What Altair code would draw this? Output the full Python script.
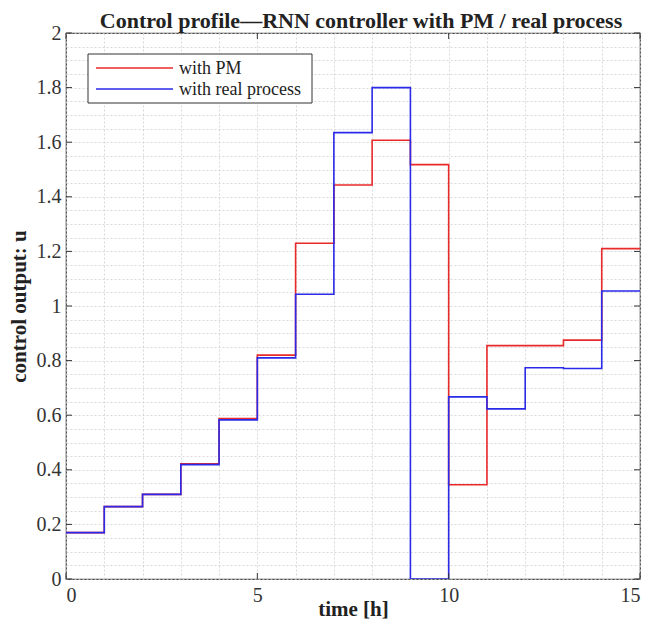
import altair as alt
import pandas as pd

# step start times (h)
t = list(range(15))
pm = [0.17, 0.265, 0.31, 0.422, 0.588, 0.82, 1.23, 1.443, 1.607, 1.518,
      0.345, 0.855, 0.855, 0.875, 1.21]
real = [0.17, 0.265, 0.31, 0.419, 0.583, 0.81, 1.043, 1.635, 1.80, 0.0,
        0.667, 0.623, 0.774, 0.771, 1.055]
series = ["with PM", "with real process"]
colors = ["#e82a2a", "#2a2ae8"]
x_major = [0, 5, 10, 15]
y_major = [round(i * 0.2, 1) for i in range(11)]
x_grid = list(range(16))
y_grid = [round(i * 0.05, 2) for i in range(41)]

rows = []
for name, vals in zip(series, [pm, real]):
    for ti, v in zip(t, vals):
        rows.append({"series": name, "t": ti, "u": v})
    rows.append({"series": name, "t": 15, "u": vals[-1]})
df = pd.DataFrame(rows)

W, H = 574, 546
FONT = "Liberation Serif"

xs = alt.Scale(domain=[0, 15], nice=False, zero=False)
ys = alt.Scale(domain=[0, 2], nice=False, zero=False)
x_axis = alt.Axis(values=x_grid, ticks=False, domain=False, labelPadding=6,
                  labelOverlap=False, titleY=36, titleBaseline="alphabetic",
                  labelExpr="datum.value % 5 == 0 ? format(datum.value, 'd') : ''")
y_axis = alt.Axis(values=y_grid, ticks=False, domain=False, labelPadding=5,
                  labelOverlap=False, titlePadding=7,
                  labelExpr="abs(datum.value*5 - round(datum.value*5)) < 1e-6 ? format(datum.value, '~g') : ''")
XT, YT = "time [h]", "control output: u"

lines = alt.Chart(df).mark_line(interpolate="step-after", strokeWidth=1.6, clip=True).encode(
    x=alt.X("t:Q", scale=xs, title=XT, axis=x_axis),
    y=alt.Y("u:Q", scale=ys, title=YT, axis=y_axis),
    color=alt.Color("series:N", scale=alt.Scale(domain=series, range=colors), legend=None),
)

# inward major ticks on all four sides
xt = pd.DataFrame({"t": x_major})
yt = pd.DataFrame({"u": y_major})
tick_b = alt.Chart(xt).mark_rule(color="#333").encode(x=alt.X("t:Q", scale=xs, title=XT, axis=x_axis), y=alt.value(H), y2=alt.value(H - 6))
tick_t = alt.Chart(xt).mark_rule(color="#333").encode(x=alt.X("t:Q", scale=xs, title=XT, axis=x_axis), y=alt.value(0), y2=alt.value(6))
tick_l = alt.Chart(yt).mark_rule(color="#333").encode(y=alt.Y("u:Q", scale=ys, title=YT, axis=y_axis), x=alt.value(0), x2=alt.value(6))
tick_r = alt.Chart(yt).mark_rule(color="#333").encode(y=alt.Y("u:Q", scale=ys, title=YT, axis=y_axis), x=alt.value(W), x2=alt.value(W - 6))

# legend box (drawn as marks to match the compact MATLAB legend)
lg = pd.DataFrame({"series": series})
box = alt.Chart(lg.head(1)).mark_rect(fill="white", stroke="#333", strokeWidth=1).encode(
    x=alt.value(22), x2=alt.value(246), y=alt.value(21), y2=alt.value(70))
leg_layers = [box]
for i, (name, col) in enumerate(zip(series, colors)):
    yy = 35 + 21 * i
    one = pd.DataFrame({"series": [name]})
    leg_layers.append(alt.Chart(one).mark_rule(color=col, strokeWidth=1.5).encode(
        x=alt.value(30), x2=alt.value(107), y=alt.value(yy)))
    leg_layers.append(alt.Chart(one).mark_text(align="left", baseline="middle", font=FONT,
                                                fontSize=18, color="#222").encode(
        x=alt.value(113), y=alt.value(yy + 1), text="series:N"))

chart = alt.layer(lines, tick_b, tick_t, tick_l, tick_r, *leg_layers).properties(
    width=W, height=H,
    autosize=alt.AutoSizeParams(type="none"),
    padding={"left": 58, "top": 25, "right": 9, "bottom": 42},
    title=alt.TitleParams("Control profile\u2014RNN controller with PM / real process",
                          font=FONT, fontSize=22, fontWeight="bold", color="#222",
                          offset=2, dx=8, dy=12),
).configure_view(stroke="#444", strokeWidth=1.2).configure_axis(
    grid=True, gridColor="#cfcfcf", gridDash=[2, 2], gridWidth=0.8,
    labelFont=FONT, labelFontSize=20, labelColor="#333",
    titleFont=FONT, titleFontSize=21, titleFontWeight="bold", titleColor="#222",
)

chart.save("out.html", embed_options={"renderer": "svg", "actions": False})
